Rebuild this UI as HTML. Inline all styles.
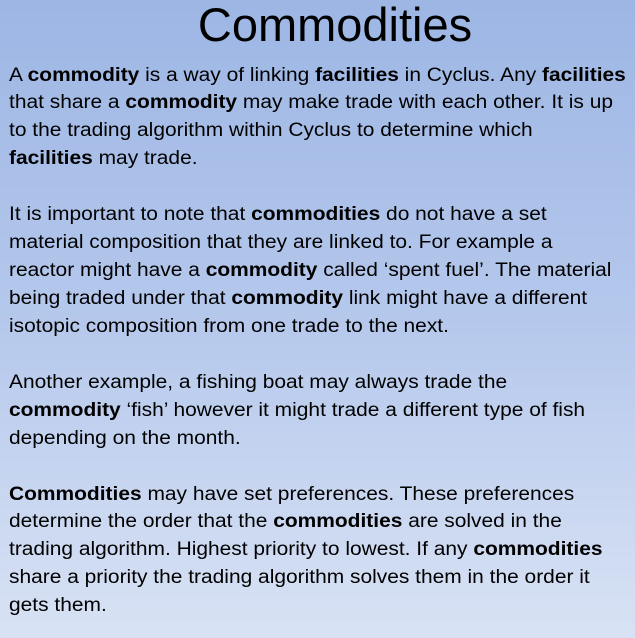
<!DOCTYPE html>
<html><head><meta charset="utf-8"><style>
html,body{margin:0;padding:0}
body{width:635px;height:638px;overflow:hidden;background:linear-gradient(180deg,#9db6e4 0%,#b5c8ec 50%,#d8e2f4 100%);font-family:"Liberation Sans",sans-serif;color:#000;position:relative}
h1{position:absolute;top:-3px;left:0;width:670px;text-align:center;margin:0;font-weight:normal;font-size:47px;line-height:56px}
.l{position:absolute;left:9px;font-size:19px;white-space:nowrap;line-height:20px;transform:scaleX(1.102);transform-origin:0 0;margin-top:2px}
b{font-weight:bold}
</style></head><body>
<h1>Commodities</h1>
<div>
<div class="l" style="top:64px">A <b>commodity</b> is a way of linking <b>facilities</b> in Cyclus. Any <b>facilities</b></div>
<div class="l" style="top:91px">that share a <b>commodity</b> may make trade with each other. It is up</div>
<div class="l" style="top:119px">to the trading algorithm within Cyclus to determine which</div>
<div class="l" style="top:147px"><b>facilities</b> may trade.</div>
<div class="l" style="top:203px">It is important to note that <b>commodities</b> do not have a set</div>
<div class="l" style="top:231px">material composition that they are linked to. For example a</div>
<div class="l" style="top:259px">reactor might have a <b>commodity</b> called ‘spent fuel’. The material</div>
<div class="l" style="top:287px">being traded under that <b>commodity</b> link might have a different</div>
<div class="l" style="top:315px">isotopic composition from one trade to the next.</div>
<div class="l" style="top:371px">Another example, a fishing boat may always trade the</div>
<div class="l" style="top:399px"><b>commodity</b> ‘fish’ however it might trade a different type of fish</div>
<div class="l" style="top:427px">depending on the month.</div>
<div class="l" style="top:483px"><b>Commodities</b> may have set preferences. These preferences</div>
<div class="l" style="top:510px">determine the order that the <b>commodities</b> are solved in the</div>
<div class="l" style="top:538px">trading algorithm. Highest priority to lowest. If any <b>commodities</b></div>
<div class="l" style="top:566px">share a priority the trading algorithm solves them in the order it</div>
<div class="l" style="top:594px">gets them.</div>
</div>
</body></html>
